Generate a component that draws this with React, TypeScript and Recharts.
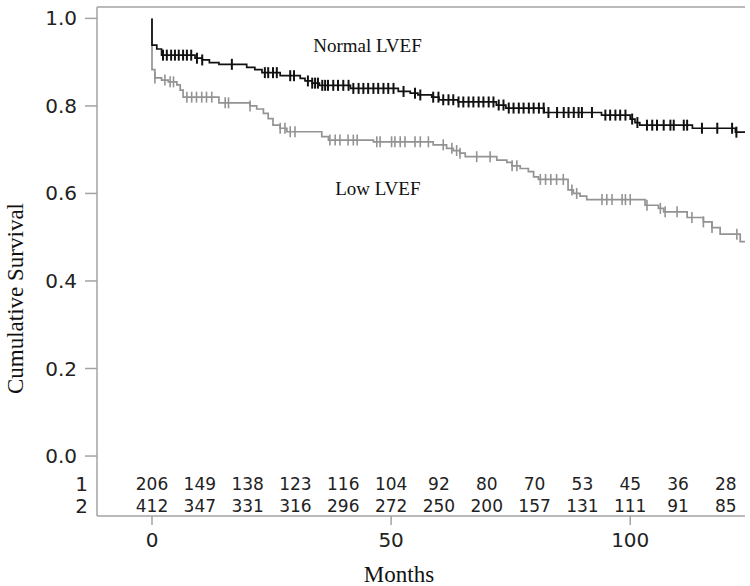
import React from 'react'
import { ComposedChart, Line, Scatter, XAxis, YAxis, ReferenceLine, ReferenceDot } from 'recharts'

// Kaplan-Meier steps: [month, cumulative survival]
const normalSteps: [number, number][] = [
  [0, 1.0], [0, 0.939], [1, 0.93], [2, 0.916], [9, 0.909], [10.5, 0.905], [12, 0.899], [14, 0.895],
  [19.8, 0.888], [21.5, 0.883], [23, 0.876], [26.8, 0.869], [31, 0.863], [32, 0.857], [33.5, 0.852],
  [35, 0.847], [41.5, 0.84], [51.5, 0.833], [54, 0.829], [55.6, 0.825], [58.5, 0.82], [60, 0.814],
  [64, 0.809], [72, 0.802], [74, 0.795], [82, 0.785], [94, 0.779], [100, 0.77], [101, 0.762],
  [102, 0.756], [113, 0.749], [122, 0.74], [124, 0.74],
]

const lowSteps: [number, number][] = [
  [0, 1.0], [0, 0.883], [0.6, 0.864], [2, 0.859], [3.4, 0.855], [5.2, 0.848], [5.9, 0.836],
  [6.5, 0.82], [14, 0.807], [20.5, 0.8], [21.9, 0.793], [23.3, 0.783], [24.3, 0.771], [25.3, 0.756],
  [26.8, 0.749], [28.2, 0.741], [35.5, 0.73], [36.9, 0.722], [46.3, 0.718], [58.8, 0.711],
  [61.6, 0.703], [63, 0.698], [64.4, 0.692], [65.5, 0.684], [72.1, 0.676], [74.2, 0.671],
  [75.3, 0.663], [77, 0.657], [78.7, 0.65], [79.8, 0.638], [80.8, 0.632], [87, 0.608], [88.1, 0.6],
  [89.5, 0.594], [90.9, 0.586], [103.1, 0.573], [105.9, 0.566], [107, 0.558], [111.9, 0.545],
  [115.3, 0.535], [117.1, 0.522], [118.8, 0.507], [123, 0.49], [124, 0.49],
]

// censoring times (months)
const normalCensored = [
  2.3, 3.1, 4, 4.8, 5.6, 6.5, 7.3, 8.2, 9.4, 10.5, 16.7, 23.6, 24.3, 25.3, 26.1, 28.9, 29.7,
  32.6, 33.5, 34.1, 34.7, 35.6, 36.2, 36.8, 37.9, 38.9, 40, 41.1, 42.1, 43.2, 44.2, 45.2, 46.3,
  47.3, 48.4, 49.4, 50.5, 52.6, 55, 56.1, 58.8, 59.9, 60.9, 62, 63, 64.1, 65.1, 66.2, 67.2, 68.3,
  69.3, 70.4, 71.4, 72.5, 73.5, 74.6, 75.6, 76.7, 77.7, 78.8, 79.8, 80.9, 81.9, 82.9, 84.7, 86.1,
  87.1, 88.2, 89.2, 89.9, 92, 94.8, 95.8, 96.9, 97.9, 99, 100.4, 101.5, 103.5, 104.6, 105.6, 107,
  108.4, 109.1, 111.2, 111.9, 115, 118.2, 121.3, 122.2,
]

const lowCensored = [
  0.6, 2.7, 3.8, 4.5, 7.3, 8.3, 9.3, 10.4, 11.4, 12.5, 15.3, 16, 20.5, 26.8, 27.8, 28.9, 29.9,
  37.2, 38.3, 39.3, 41, 42.1, 42.9, 47, 47.7, 50.1, 50.8, 51.9, 52.9, 55, 56.1, 57.8, 60.9, 62.7,
  63.7, 64.4, 67.9, 70.7, 75.3, 76.3, 81.2, 82.3, 83.4, 84.6, 86, 87.8, 88.8, 94.1, 95.1, 96.2,
  98.3, 99, 100, 103.5, 106.3, 107.3, 109.8, 112.9, 115.3, 117.1, 122.3,
]

// numbers at risk
const riskMonths = [0, 10, 20, 30, 40, 50, 60, 70, 80, 90, 100, 110, 120]
const riskRow1 = [206, 149, 138, 123, 116, 104, 92, 80, 70, 53, 45, 36, 28]
const riskRow2 = [412, 347, 331, 316, 296, 272, 250, 200, 157, 131, 111, 91, 85]

const xTicks = [0, 50, 100]
const yTicks = [0, 0.2, 0.4, 0.6, 0.8, 1.0]

const X_MIN = -11.5
const X_MAX = 124
const Y_MIN = -0.137
const Y_MAX = 1.026
const ROW_Y = [-0.064, -0.114]

const AXIS = '#a3a3a3'
const BLACK = '#111'
const GREY = '#939393'
const SANS = 'DejaVu Sans, sans-serif'
const SERIF = 'Liberation Serif, Times New Roman, serif'

const toPoints = (steps: [number, number][]) => steps.map(([m, s]) => ({ m, s }))

// value of the step function at time t
const survAt = (steps: [number, number][], t: number) => {
  let v = steps[0][1]
  for (const [m, s] of steps) if (m <= t) v = s
  return v
}

const censorPoints = (steps: [number, number][], times: number[]) =>
  times.map((t) => ({ m: t, s: survAt(steps, t) }))

const riskPoints = (counts: number[], row: number) =>
  riskMonths.map((m, i) => ({ m, s: ROW_Y[row], n: counts[i] }))

const censorMark = (color: string, w: number) => (p: any) => (
  <line x1={p.cx} x2={p.cx} y1={p.cy - 5.5} y2={p.cy + 5.5} stroke={color} strokeWidth={w} />
)

const RiskText = (p: any) => (
  <text x={p.cx} y={p.cy} textAnchor="middle" dominantBaseline="central" fontFamily={SANS} fontSize={17} fill="#222">
    {p.payload.n}
  </text>
)

const YTick = (p: any) => {
  const v = p.payload.value
  const row = ROW_Y.indexOf(v)
  if (row >= 0) {
    return (
      <text x={p.x + 11} y={p.y} textAnchor="end" dominantBaseline="central" fontFamily={SANS} fontSize={20} fill="#222">
        {row + 1}
      </text>
    )
  }
  return (
    <g>
      <line x1={p.x + 8} x2={p.x + 20} y1={p.y} y2={p.y} stroke={AXIS} strokeWidth={1.5} />
      <text x={p.x} y={p.y} textAnchor="end" dominantBaseline="central" fontFamily={SANS} fontSize={20} fill="#222">
        {Number(v).toFixed(1)}
      </text>
    </g>
  )
}

const XLabel = ({ viewBox }: any) => (
  <text x={viewBox.x + viewBox.width / 2 - 22} y={viewBox.y + viewBox.height - 4} textAnchor="middle" fontFamily={SERIF} fontSize={23} fill="#111">
    Months
  </text>
)

const YLabel = ({ viewBox }: any) => {
  const cx = viewBox.x + 15
  const cy = viewBox.y + viewBox.height / 2 + 37
  return (
    <text x={cx} y={cy} transform={`rotate(-90 ${cx} ${cy})`} textAnchor="middle" dominantBaseline="central" fontFamily={SERIF} fontSize={23} fill="#111">
      Cumulative Survival
    </text>
  )
}

export default function App() {
  return (
    <div style={{ position: 'absolute', left: 0, top: 0, width: 750, height: 586, background: '#fff' }}>
      <ComposedChart width={750} height={586} margin={{ top: 7, right: 5, bottom: 0, left: 0 }}>
        <XAxis
          type="number"
          dataKey="m"
          domain={[X_MIN, X_MAX]}
          allowDataOverflow
          ticks={xTicks}
          interval={0}
          height={70}
          tickSize={9}
          tickMargin={8}
          axisLine={{ stroke: AXIS, strokeWidth: 1.5 }}
          tickLine={{ stroke: AXIS, strokeWidth: 1.5 }}
          tick={{ fontSize: 20, fill: '#222', fontFamily: SANS }}
          label={<XLabel />}
        />
        <YAxis
          type="number"
          dataKey="s"
          domain={[Y_MIN, Y_MAX]}
          allowDataOverflow
          ticks={[ROW_Y[1], ROW_Y[0], ...yTicks]}
          interval={0}
          width={97}
          tickSize={12}
          tickMargin={8}
          tickLine={false}
          axisLine={{ stroke: AXIS, strokeWidth: 1.5 }}
          tick={<YTick />}
          label={<YLabel />}
        />
        <ReferenceLine y={Y_MAX} stroke={AXIS} strokeWidth={1.5} />

        <Line data={toPoints(lowSteps)} dataKey="s" type="stepAfter" stroke={GREY} strokeWidth={1.7} dot={false} isAnimationActive={false} />
        <Scatter data={censorPoints(lowSteps, lowCensored)} dataKey="s" shape={censorMark(GREY, 1.6)} isAnimationActive={false} />
        <Line data={toPoints(normalSteps)} dataKey="s" type="stepAfter" stroke={BLACK} strokeWidth={1.7} dot={false} isAnimationActive={false} />
        <Scatter data={censorPoints(normalSteps, normalCensored)} dataKey="s" shape={censorMark(BLACK, 2)} isAnimationActive={false} />

        <Scatter data={riskPoints(riskRow1, 0)} dataKey="s" shape={RiskText} isAnimationActive={false} />
        <Scatter data={riskPoints(riskRow2, 1)} dataKey="s" shape={RiskText} isAnimationActive={false} />

        <ReferenceDot x={33.7} y={0.938} r={0} stroke="none" fill="none"
          label={{ value: 'Normal LVEF', position: 'right', offset: 0, fill: '#111', fontSize: 19, fontFamily: SERIF }} />
        <ReferenceDot x={38.3} y={0.611} r={0} stroke="none" fill="none"
          label={{ value: 'Low LVEF', position: 'right', offset: 0, fill: '#111', fontSize: 19, fontFamily: SERIF }} />
      </ComposedChart>
    </div>
  )
}
